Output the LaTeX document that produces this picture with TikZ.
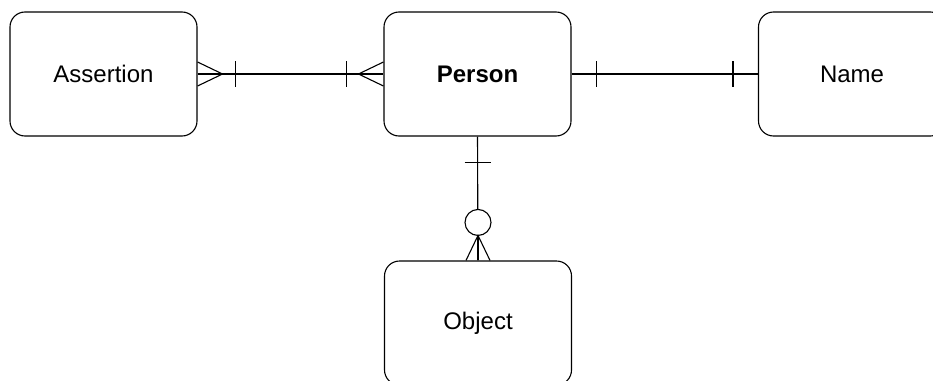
\documentclass[tikz,border=0pt]{standalone}
\usepackage{fontspec}
\setmainfont{Liberation Sans}
\usetikzlibrary{calc}
\begin{document}
\begin{tikzpicture}[x=1pt,y=-1pt,
  ent/.style={draw, line width=1.1pt, rounded corners=15pt, minimum width=187pt, minimum height=124pt, inner sep=0pt, font=\fontsize{24}{28}\selectfont},
  conn/.style={line width=1.1pt}]
\useasboundingbox (0,0) rectangle (933,380);
\clip (0,0) rectangle (933,380);
\fill[white] (0,0) rectangle (933,380);
\node[ent] (A) at (103.5,74) {Assertion};
\node[ent] (P) at (477.5,74) {\bfseries Person};
\node[ent] (N) at (852,74) {Name};
\node[ent] (O) at (478,323) {Object};
% Assertion -- Person
\draw[conn] (A.east) -- (P.west);
\draw[conn] ($(A.east)+(0,-12)$) -- ($(A.east)+(25,0)$) -- ($(A.east)+(0,12)$);
\draw[conn] ($(A.east)+(38,-13)$) -- ($(A.east)+(38,13)$);
\draw[conn] ($(P.west)+(0,-12)$) -- ($(P.west)+(-25,0)$) -- ($(P.west)+(0,12)$);
\draw[conn] ($(P.west)+(-37,-13)$) -- ($(P.west)+(-37,13)$);
% Person -- Name
\draw[conn] (P.east) -- (N.west);
\draw[conn] ($(P.east)+(25,-13)$) -- ($(P.east)+(25,13)$);
\draw[conn] ($(N.west)+(-25,-13)$) -- ($(N.west)+(-25,13)$);
% Person -- Object
\draw[conn] (P.south) -- (O.north);
\draw[conn] ($(P.south)+(-13,26)$) -- ($(P.south)+(13,26)$);
\draw[conn, fill=white] ($(O.north)+(0,-38)$) circle[radius=13pt];
\draw[conn] ($(O.north)+(-12,0)$) -- ($(O.north)+(0,-25)$) -- ($(O.north)+(12,0)$);
\draw[conn] ($(O.north)+(0,-25)$) -- (O.north);
\end{tikzpicture}
\end{document}
